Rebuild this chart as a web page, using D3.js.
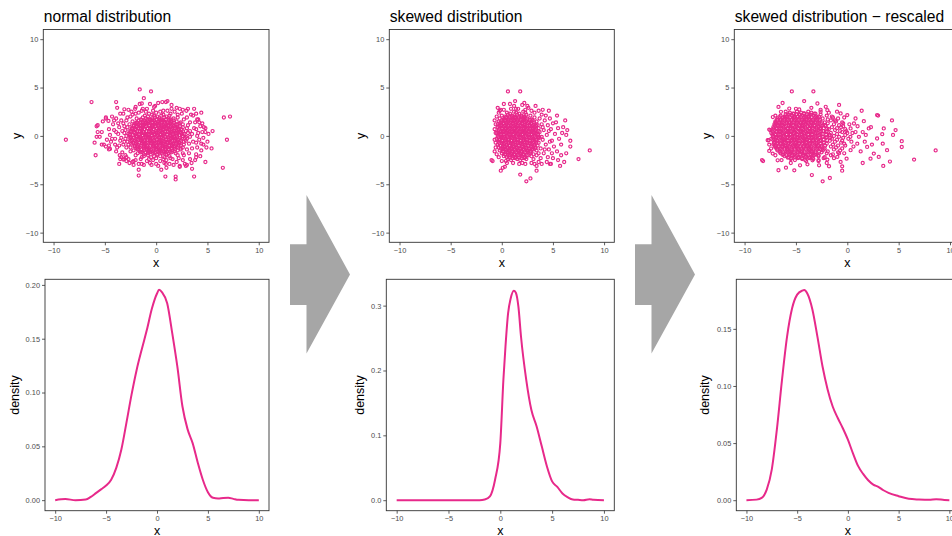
<!DOCTYPE html>
<html>
<head>
<meta charset="utf-8">
<script src="https://cdn.jsdelivr.net/npm/d3@7"></script>
<style>
  body { margin: 0; background: #fff; }
  text { font-family: "Liberation Sans", Arial, sans-serif; }
</style>
</head>
<body>
<script>
// ---- data ----
var titles = ["normal distribution", "skewed distribution", "skewed distribution \u2212 rescaled"];
var xyTicks = [-10, -5, 0, 5, 10];
var normalDensTicks = [0, 0.05, 0.10, 0.15, 0.20];
var skewedDensTicks = [0, 0.1, 0.2, 0.3];
var rescaledDensTicks = [0, 0.05, 0.10, 0.15];

var normalPoints = [
  [-1.1,2.1],[-0.8,2.0],[-0.4,2.2],[-0.2,2.1],[0.1,2.0],[0.5,2.1],[0.7,2.2],[1.0,2.0],[1.3,2.1],
  [-1.9,1.8],[-1.5,1.7],[-1.3,1.9],[-1.0,1.8],[-0.6,1.7],[-0.4,1.8],[-0.1,1.9],[0.3,1.8],[0.5,1.7],[0.8,1.9],[1.2,1.8],[1.4,1.7],[1.7,1.8],[2.1,1.9],
  [-2.3,1.5],[-1.9,1.4],[-1.7,1.6],[-1.3,1.5],[-1.0,1.4],[-0.8,1.5],[-0.4,1.6],[-0.1,1.4],[0.2,1.5],[0.6,1.6],[0.8,1.5],[1.1,1.4],[1.5,1.5],[1.7,1.6],[2.0,1.5],[2.4,1.4],
  [-2.6,1.2],[-2.2,1.1],[-2.0,1.3],[-1.7,1.2],[-1.3,1.1],[-1.1,1.2],[-0.8,1.3],[-0.4,1.1],[-0.2,1.2],[0.1,1.3],[0.5,1.2],[0.7,1.1],[1.0,1.2],[1.4,1.3],[1.6,1.1],[1.9,1.2],[2.3,1.3],[2.6,1.2],
  [-2.8,0.9],[-2.4,0.8],[-2.2,1.0],[-1.9,0.9],[-1.5,0.8],[-1.3,0.9],[-1.0,1.0],[-0.6,0.8],[-0.4,0.9],[-0.1,1.0],[0.3,0.9],[0.5,0.8],[0.8,0.9],[1.2,1.0],[1.4,0.9],[1.7,0.8],[2.1,0.9],[2.3,1.0],[2.6,0.9],[3.0,0.8],
  [-3.0,0.6],[-2.6,0.5],[-2.3,0.7],[-2.0,0.6],[-1.6,0.5],[-1.4,0.6],[-1.1,0.7],[-0.7,0.5],[-0.5,0.6],[-0.2,0.7],[0.2,0.6],[0.4,0.5],[0.7,0.6],[1.1,0.7],[1.3,0.6],[1.6,0.5],[2.0,0.6],[2.2,0.7],[2.5,0.6],[2.9,0.5],
  [-3.1,0.3],[-2.7,0.2],[-2.5,0.4],[-2.1,0.3],[-1.8,0.2],[-1.4,0.3],[-1.2,0.4],[-0.9,0.2],[-0.5,0.3],[-0.3,0.4],[0.0,0.3],[0.4,0.2],[0.6,0.3],[0.9,0.4],[1.3,0.3],[1.5,0.2],[1.8,0.3],[2.2,0.4],[2.4,0.3],[2.7,0.2],[3.1,0.3],
  [-2.9,0.0],[-2.5,-0.1],[-2.3,0.1],[-1.9,0.0],[-1.6,-0.1],[-1.3,0.0],[-1.0,0.1],[-0.8,-0.1],[-0.4,0.0],[-0.1,0.1],[0.1,0.0],[0.5,-0.1],[0.7,0.0],[1.1,0.1],[1.4,0.0],[1.6,-0.1],[2.0,0.0],[2.3,0.1],[2.6,0.0],[2.9,-0.1],
  [-3.0,-0.3],[-2.6,-0.2],[-2.4,-0.4],[-2.0,-0.3],[-1.7,-0.2],[-1.5,-0.3],[-1.1,-0.4],[-0.8,-0.2],[-0.6,-0.3],[-0.2,-0.4],[0.1,-0.3],[0.3,-0.2],[0.7,-0.3],[1.0,-0.4],[1.2,-0.3],[1.6,-0.2],[1.9,-0.3],[2.1,-0.4],[2.5,-0.3],[2.8,-0.2],[3.0,-0.3],
  [-2.8,-0.6],[-2.5,-0.5],[-2.2,-0.7],[-1.9,-0.6],[-1.5,-0.5],[-1.3,-0.6],[-0.9,-0.7],[-0.6,-0.5],[-0.4,-0.6],[0.0,-0.7],[0.3,-0.6],[0.5,-0.5],[0.9,-0.6],[1.2,-0.7],[1.4,-0.6],[1.8,-0.5],[2.1,-0.6],[2.3,-0.7],[2.7,-0.6],[2.9,-0.5],
  [-2.7,-0.9],[-2.4,-0.8],[-2.1,-1.0],[-1.8,-0.9],[-1.4,-0.8],[-1.2,-0.9],[-0.9,-1.0],[-0.5,-0.8],[-0.3,-0.9],[0.0,-1.0],[0.4,-0.9],[0.6,-0.8],[0.9,-0.9],[1.3,-1.0],[1.5,-0.9],[1.8,-0.8],[2.2,-0.9],[2.4,-1.0],[2.7,-0.9],
  [-2.5,-1.2],[-2.1,-1.1],[-1.9,-1.3],[-1.6,-1.2],[-1.2,-1.1],[-1.0,-1.2],[-0.7,-1.3],[-0.3,-1.1],[-0.1,-1.2],[0.2,-1.3],[0.6,-1.2],[0.8,-1.1],[1.1,-1.2],[1.5,-1.3],[1.7,-1.1],[2.0,-1.2],[2.4,-1.3],[2.6,-1.2],
  [-2.2,-1.5],[-1.8,-1.4],[-1.6,-1.6],[-1.2,-1.5],[-0.9,-1.4],[-0.7,-1.5],[-0.3,-1.6],[0.0,-1.4],[0.3,-1.5],[0.7,-1.6],[0.9,-1.5],[1.2,-1.4],[1.6,-1.5],[1.8,-1.6],[2.1,-1.5],[2.4,-1.4],
  [-1.8,-1.8],[-1.5,-1.7],[-1.2,-1.9],[-0.8,-1.8],[-0.6,-1.7],[-0.3,-1.8],[0.1,-1.9],[0.3,-1.7],[0.6,-1.8],[1.0,-1.9],[1.2,-1.8],[1.5,-1.7],[1.9,-1.8],
  [-1.2,-2.1],[-0.8,-2.0],[-0.5,-2.2],[-0.2,-2.1],[0.1,-2.0],[0.4,-2.1],[0.8,-2.2],[1.0,-2.0],[1.3,-2.1],
  [-3.4,1.6],[-3.6,0.9],[-3.7,0.2],[-3.5,-0.5],[-3.8,-1.2],[-3.3,-1.7],[-3.0,-2.0],[-2.7,-2.4],[-2.0,-2.5],[-1.5,-2.4],
  [-0.9,-2.6],[-0.3,-2.5],[0.4,-2.6],[1.0,-2.5],[1.6,-2.4],[2.2,-2.3],[2.7,-2.0],[3.2,-1.8],[3.5,-1.3],[3.6,-0.6],
  [3.5,0.2],[3.7,0.8],[3.3,1.4],[3.0,1.9],[2.5,2.3],[1.8,2.5],[1.1,2.6],[0.4,2.5],[-0.3,2.6],[-1.0,2.5],
  [-1.7,2.4],[-2.3,2.2],[-2.8,1.9],[-3.2,1.3],[-4.1,0.6],[-4.3,-0.3],[-4.0,-0.9],[-4.2,1.2],[-3.9,-1.6],[-2.6,-2.8],
  [-0.6,-2.8],[0.8,-2.8],[2.0,-2.7],[3.3,-2.4],[4.0,-1.2],[4.2,-0.4],[4.1,0.3],[4.3,1.0],[3.8,1.4],[3.4,2.2],
  [2.0,2.9],[1.5,2.8],[-0.1,3.1],[-1.3,2.8],[-2.4,2.5],[-3.2,2.3],[-4.5,0.1],[4.6,-0.2],[3.8,-2.5],[-2.9,-2.6],
  [3.9,2.3],[-4.4,-0.6],[4.3,-2.1],[-4.3,2.0],[-2.0,3.0],[0.2,-3.1],[1.7,-3.0],[-3.1,-2.4],
  [-3.3,0.5],[-3.4,-0.2],[-3.2,-0.9],[-3.1,1.0],[-2.9,1.6],[-2.5,2.0],[-2.0,2.3],[-1.4,2.6],[-0.7,2.3],[0.0,2.4],
  [0.7,2.6],[1.4,2.3],[2.1,2.2],[2.7,1.7],[3.1,1.1],[3.3,0.5],[3.3,-0.1],[3.2,-0.8],[3.0,-1.4],[2.6,-1.8],
  [2.1,-2.0],[1.4,-2.3],[0.7,-2.4],[0.0,-2.3],[-0.7,-2.4],[-1.4,-2.2],[-2.0,-2.0],[-2.5,-1.6],[-2.9,-1.2],[-3.1,-0.6],
  [-3.9,0.4],[-4.0,-0.3],[-3.7,1.3],[-3.6,-1.0],[4.0,0.0],[3.9,-0.7],[3.9,0.7],[4.5,0.4],[4.6,-0.9],[4.2,1.4],
  [-4.6,0.7],[-4.8,-0.4],[-2.2,-3.0],[1.0,-3.3],[-0.6,3.3],[2.6,-2.5],[-3.4,-2.2],[-4.1,1.6],[5.1,0.2],[3.5,-3.4],
  [-8.8,-0.4],[-6.3,3.5],[-1.6,4.8],[-0.5,4.6],[-1.2,3.9],[-3.9,3.5],[-3.8,2.9],[1.1,3.6],[0.6,3.5],[-1.6,3.3],
  [6.6,1.9],[7.2,2.0],[6.9,-0.4],[6.5,-3.3],[5.5,0.5],[4.4,2.4],[5.4,-1.3],[4.8,-2.7],[3.7,-4.2],[1.9,-4.2],
  [1.9,-4.5],[0.9,-4.2],[-1.7,-4.1],[-1.7,-3.5],[-1.7,-2.9],[0.5,-3.5],[2.3,-3.2],[2.9,-3.1],[-3.6,-2.9],[-5.9,-2.0],
  [-6.0,-0.7],[-5.8,-0.1],[-5.7,1.1],[-5.2,1.5],[-4.9,1.8],[-5.3,0.4],[-5.1,-0.9],[-4.9,-1.1],[-4.6,-1.4],[-3.5,-2.4],
  [-2.3,-2.7],[-1.2,-3.0],[1.3,-2.9],[3.0,-3.0],[3.9,-2.2],[5.0,-0.6],[4.8,0.8],[4.5,1.3],[4.0,1.7],[3.7,2.8],
  [3.1,2.8],[2.6,2.7],[-4.9,1.9],[-4.65,1.55],[-5.8,1.0],[-5.7,0.4],[-5.5,-0.1],[-5.3,-0.9],[-4.6,-1.0],[-4.5,-1.35],
  [-3.55,-2.0],[-3.2,-2.45],[-2.9,-2.2],[-2.2,-2.6],[-1.4,-2.9],[-0.45,-3.0],[0.0,-2.9],[0.95,-2.9],[2.3,-3.1],[2.8,-2.9],
  [3.45,-2.8],[3.9,-1.9],[4.4,-1.5],[4.9,-1.2],[4.4,-0.8],[4.8,0.4],[4.65,0.9],[4.1,1.7],[3.6,2.1],[2.95,2.6],
  [2.3,2.8],[1.5,3.2],[0.95,3.5],[0.2,3.4],[-0.2,3.0],[-0.9,2.8],[-1.4,3.35],[-2.05,2.8],[-2.7,2.7],[-3.1,2.75],
  [-3.5,2.3],[-3.9,1.8]
];

// the solid middle of the normal cloud
var normalCore = [
  [-1.45,1.65],[-1.15,1.6],[-0.85,1.7],[-0.55,1.65],[-0.25,1.6],[0.05,1.7],[0.35,1.65],[0.65,1.6],[0.95,1.7],[1.25,1.65],
  [-1.85,1.35],[-1.55,1.3],[-1.25,1.4],[-0.95,1.35],[-0.65,1.3],[-0.35,1.4],[-0.05,1.35],[0.25,1.3],[0.55,1.4],[0.85,1.35],[1.15,1.3],[1.45,1.4],[1.75,1.35],
  [-2.15,1.05],[-1.85,1.0],[-1.55,1.1],[-1.25,1.05],[-0.95,1.0],[-0.65,1.1],[-0.35,1.05],[-0.05,1.0],[0.25,1.1],[0.55,1.05],[0.85,1.0],[1.15,1.1],[1.45,1.05],[1.75,1.0],[2.05,1.1],
  [-2.35,0.75],[-2.05,0.7],[-1.75,0.8],[-1.45,0.75],[-1.15,0.7],[-0.85,0.8],[-0.55,0.75],[-0.25,0.7],[0.05,0.8],[0.35,0.75],[0.65,0.7],[0.95,0.8],[1.25,0.75],[1.55,0.7],[1.85,0.8],[2.15,0.75],[2.45,0.7],
  [-2.45,0.45],[-2.15,0.4],[-1.85,0.5],[-1.55,0.45],[-1.25,0.4],[-0.95,0.5],[-0.65,0.45],[-0.35,0.4],[-0.05,0.5],[0.25,0.45],[0.55,0.4],[0.85,0.5],[1.15,0.45],[1.45,0.4],[1.75,0.5],[2.05,0.45],[2.35,0.4],
  [-2.55,0.15],[-2.25,0.1],[-1.95,0.2],[-1.65,0.15],[-1.35,0.1],[-1.05,0.2],[-0.75,0.15],[-0.45,0.1],[-0.15,0.2],[0.15,0.15],[0.45,0.1],[0.75,0.2],[1.05,0.15],[1.35,0.1],[1.65,0.2],[1.95,0.15],[2.25,0.1],[2.55,0.2],
  [-2.45,-0.15],[-2.15,-0.2],[-1.85,-0.1],[-1.55,-0.15],[-1.25,-0.2],[-0.95,-0.1],[-0.65,-0.15],[-0.35,-0.2],[-0.05,-0.1],[0.25,-0.15],[0.55,-0.2],[0.85,-0.1],[1.15,-0.15],[1.45,-0.2],[1.75,-0.1],[2.05,-0.15],[2.35,-0.2],
  [-2.35,-0.45],[-2.05,-0.5],[-1.75,-0.4],[-1.45,-0.45],[-1.15,-0.5],[-0.85,-0.4],[-0.55,-0.45],[-0.25,-0.5],[0.05,-0.4],[0.35,-0.45],[0.65,-0.5],[0.95,-0.4],[1.25,-0.45],[1.55,-0.5],[1.85,-0.4],[2.15,-0.45],[2.45,-0.5],
  [-2.25,-0.75],[-1.95,-0.8],[-1.65,-0.7],[-1.35,-0.75],[-1.05,-0.8],[-0.75,-0.7],[-0.45,-0.75],[-0.15,-0.8],[0.15,-0.7],[0.45,-0.75],[0.75,-0.8],[1.05,-0.7],[1.35,-0.75],[1.65,-0.8],[1.95,-0.7],[2.25,-0.75],
  [-2.05,-1.05],[-1.75,-1.1],[-1.45,-1.0],[-1.15,-1.05],[-0.85,-1.1],[-0.55,-1.0],[-0.25,-1.05],[0.05,-1.1],[0.35,-1.0],[0.65,-1.05],[0.95,-1.1],[1.25,-1.0],[1.55,-1.05],[1.85,-1.1],[2.15,-1.0],
  [-1.75,-1.35],[-1.45,-1.4],[-1.15,-1.3],[-0.85,-1.35],[-0.55,-1.4],[-0.25,-1.3],[0.05,-1.35],[0.35,-1.4],[0.65,-1.3],[0.95,-1.35],[1.25,-1.4],[1.55,-1.3],[1.85,-1.35],
  [-1.35,-1.65],[-1.05,-1.7],[-0.75,-1.6],[-0.45,-1.65],[-0.15,-1.7],[0.15,-1.6],[0.45,-1.65],[0.75,-1.7],[1.05,-1.6],[1.35,-1.65]
];

var skewedPoints = [
  [0.5,2.4],[0.8,2.3],[1.2,2.5],[1.4,2.4],[1.7,2.3],[2.1,2.5],[2.3,2.4],
  [0.0,2.1],[0.3,2.0],[0.6,2.2],[1.0,2.1],[1.2,2.0],[1.5,2.2],[1.9,2.1],[2.1,2.0],[2.4,2.2],[2.8,2.1],
  [-0.2,1.8],[0.2,1.7],[0.4,1.9],[0.7,1.8],[1.1,1.7],[1.3,1.9],[1.6,1.8],[2.0,1.7],[2.2,1.9],[2.5,1.8],[2.9,1.7],[3.2,1.9],
  [-0.3,1.5],[0.0,1.4],[0.3,1.6],[0.6,1.5],[0.9,1.4],[1.2,1.6],[1.5,1.5],[1.8,1.4],[2.1,1.6],[2.4,1.5],[2.7,1.4],[3.0,1.6],[3.4,1.5],
  [-0.4,1.2],[-0.1,1.1],[0.2,1.3],[0.5,1.2],[0.9,1.1],[1.1,1.3],[1.4,1.2],[1.8,1.1],[2.0,1.3],[2.3,1.2],[2.7,1.1],[2.9,1.3],[3.2,1.2],[3.5,1.1],
  [-0.4,0.9],[0.0,0.8],[0.2,1.0],[0.5,0.9],[0.8,0.8],[1.1,1.0],[1.4,0.9],[1.7,0.8],[2.0,1.0],[2.3,0.9],[2.6,0.8],[2.9,1.0],[3.2,0.9],[3.6,0.8],
  [-0.3,0.6],[0.1,0.5],[0.4,0.7],[0.6,0.6],[1.0,0.5],[1.3,0.7],[1.5,0.6],[1.9,0.5],[2.2,0.7],[2.4,0.6],[2.8,0.5],[3.1,0.7],[3.3,0.6],[3.6,0.5],
  [-0.5,0.3],[-0.2,0.2],[0.1,0.4],[0.4,0.3],[0.7,0.2],[1.0,0.4],[1.3,0.3],[1.6,0.2],[1.9,0.4],[2.2,0.3],[2.5,0.2],[2.8,0.4],[3.1,0.3],[3.4,0.2],[3.7,0.4],
  [-0.4,0.0],[0.0,-0.1],[0.2,0.1],[0.5,0.0],[0.9,-0.1],[1.1,0.1],[1.4,0.0],[1.8,-0.1],[2.0,0.1],[2.3,0.0],[2.7,-0.1],[2.9,0.1],[3.2,0.0],[3.6,-0.1],
  [-0.5,-0.3],[-0.2,-0.4],[0.1,-0.2],[0.4,-0.3],[0.7,-0.4],[1.0,-0.2],[1.3,-0.3],[1.6,-0.4],[1.9,-0.2],[2.2,-0.3],[2.5,-0.4],[2.8,-0.2],[3.1,-0.3],[3.4,-0.4],[3.7,-0.2],
  [-0.3,-0.6],[0.0,-0.7],[0.3,-0.5],[0.7,-0.6],[0.9,-0.7],[1.2,-0.5],[1.6,-0.6],[1.8,-0.7],[2.1,-0.5],[2.5,-0.6],[2.7,-0.7],[3.0,-0.5],[3.4,-0.6],[3.6,-0.7],
  [-0.4,-0.9],[-0.1,-1.0],[0.2,-0.8],[0.5,-0.9],[0.8,-1.0],[1.1,-0.8],[1.4,-0.9],[1.7,-1.0],[2.0,-0.8],[2.3,-0.9],[2.6,-1.0],[2.9,-0.8],[3.2,-0.9],[3.5,-1.0],
  [-0.3,-1.2],[0.1,-1.3],[0.3,-1.1],[0.6,-1.2],[1.0,-1.3],[1.2,-1.1],[1.5,-1.2],[1.9,-1.3],[2.1,-1.1],[2.4,-1.2],[2.8,-1.3],[3.0,-1.1],[3.3,-1.2],
  [-0.2,-1.5],[0.1,-1.6],[0.4,-1.4],[0.7,-1.5],[1.0,-1.6],[1.3,-1.4],[1.6,-1.5],[1.9,-1.6],[2.2,-1.4],[2.5,-1.5],[2.8,-1.6],[3.1,-1.4],[3.4,-1.5],
  [0.0,-1.8],[0.3,-1.9],[0.6,-1.7],[1.0,-1.8],[1.2,-1.9],[1.5,-1.7],[1.9,-1.8],[2.1,-1.9],[2.4,-1.7],[2.8,-1.8],[3.1,-1.9],
  [0.2,-2.1],[0.5,-2.2],[0.8,-2.0],[1.1,-2.1],[1.4,-2.2],[1.7,-2.0],[2.0,-2.1],[2.3,-2.2],[2.6,-2.0],[2.9,-2.1],
  [0.6,-2.4],[0.9,-2.5],[1.3,-2.3],[1.5,-2.4],[1.8,-2.5],[2.2,-2.3],[2.4,-2.4],
  [3.9,2.2],[4.2,1.6],[4.5,1.1],[4.1,0.6],[4.4,0.1],[4.0,-0.4],[4.3,-0.9],[4.6,-1.4],[4.1,-1.8],[3.8,-2.3],
  [4.5,-2.2],[4.9,-1.8],[5.1,-1.1],[4.9,-0.5],[5.2,0.2],[4.8,0.7],[5.0,1.3],[4.7,1.8],[5.5,0.8],[5.6,-0.3],
  [5.4,-1.6],[5.8,-0.9],[5.9,0.3],[5.3,1.4],[3.9,1.2],[3.8,-1.3],[4.0,2.7],[3.6,2.6],[3.2,2.4],[3.1,-2.4],
  [3.4,-2.0],[3.6,-2.7],[2.9,-2.8],[2.3,-2.9],[1.7,-2.9],[1.1,-2.8],[0.5,-2.8],[0.0,-2.6],[-0.3,-2.2],[-0.5,-1.9],
  [-0.6,-1.2],[-0.6,0.3],[-0.6,1.2],[-0.3,2.4],[0.2,2.7],[0.9,2.8],[1.6,2.8],[2.3,2.7],[2.9,2.6],[1.2,3.1],
  [2.2,3.4],[0.8,3.3],[-0.4,2.9],[4.4,-2.7],[5.0,-2.3],[5.8,-2.0],[6.0,0.9],[3.9,-2.9],[4.3,2.1],[6.3,-1.8],
  [-0.6,-0.7],[-0.7,1.6],[-0.2,2.6],[3.9,-0.1],[4.0,0.9],[4.2,-1.4],[3.7,1.8],[3.6,-1.8],[4.6,0.5],[4.7,-0.6],
  [1.4,2.8],[0.4,-2.6],[2.0,-2.8],[3.2,-2.9],[2.6,2.9],
  [0.6,4.6],[1.8,4.6],[1.3,3.6],[0.2,3.3],[-0.1,2.7],[2.0,3.2],[3.3,3.1],[4.6,2.6],[5.4,2.1],[6.2,1.6],
  [6.4,0.6],[6.3,0.1],[6.7,-0.5],[6.7,-1.1],[8.6,-1.5],[7.5,-2.4],[6.1,-2.7],[5.7,-3.1],[5.5,-2.5],[4.8,-2.9],
  [3.4,-3.1],[3.4,-3.6],[2.8,-4.4],[2.4,-4.7],[1.8,-4.0],[-0.1,-3.6],[0.1,-3.3],[-0.9,-2.6],[-1.0,-2.5],[-0.7,-1.6],
  [-0.7,-0.4],[-0.7,0.7],[-0.5,2.0],[2.5,3.1],[0.3,-3.2],[4.7,-2.9]
];

// the solid middle of the skewed cloud
var skewedCore = [
  [0.45,1.95],[0.75,1.9],[1.05,2.0],[1.35,1.95],[1.65,1.9],[1.95,2.0],[2.25,1.95],
  [0.05,1.65],[0.35,1.6],[0.65,1.7],[0.95,1.65],[1.25,1.6],[1.55,1.7],[1.85,1.65],[2.15,1.6],[2.45,1.7],[2.75,1.65],
  [-0.15,1.35],[0.15,1.3],[0.45,1.4],[0.75,1.35],[1.05,1.3],[1.35,1.4],[1.65,1.35],[1.95,1.3],[2.25,1.4],[2.55,1.35],[2.85,1.3],[3.15,1.4],
  [-0.25,1.05],[0.05,1.0],[0.35,1.1],[0.65,1.05],[0.95,1.0],[1.25,1.1],[1.55,1.05],[1.85,1.0],[2.15,1.1],[2.45,1.05],[2.75,1.0],[3.05,1.1],[3.35,1.05],
  [-0.25,0.75],[0.05,0.7],[0.35,0.8],[0.65,0.75],[0.95,0.7],[1.25,0.8],[1.55,0.75],[1.85,0.7],[2.15,0.8],[2.45,0.75],[2.75,0.7],[3.05,0.8],[3.35,0.75],
  [-0.35,0.45],[-0.05,0.4],[0.25,0.5],[0.55,0.45],[0.85,0.4],[1.15,0.5],[1.45,0.45],[1.75,0.4],[2.05,0.5],[2.35,0.45],[2.65,0.4],[2.95,0.5],[3.25,0.45],
  [-0.35,0.15],[-0.05,0.1],[0.25,0.2],[0.55,0.15],[0.85,0.1],[1.15,0.2],[1.45,0.15],[1.75,0.1],[2.05,0.2],[2.35,0.15],[2.65,0.1],[2.95,0.2],[3.25,0.15],[3.55,0.1],
  [-0.35,-0.15],[-0.05,-0.2],[0.25,-0.1],[0.55,-0.15],[0.85,-0.2],[1.15,-0.1],[1.45,-0.15],[1.75,-0.2],[2.05,-0.1],[2.35,-0.15],[2.65,-0.2],[2.95,-0.1],[3.25,-0.15],[3.55,-0.2],
  [-0.25,-0.45],[0.05,-0.5],[0.35,-0.4],[0.65,-0.45],[0.95,-0.5],[1.25,-0.4],[1.55,-0.45],[1.85,-0.5],[2.15,-0.4],[2.45,-0.45],[2.75,-0.5],[3.05,-0.4],[3.35,-0.45],
  [-0.25,-0.75],[0.05,-0.8],[0.35,-0.7],[0.65,-0.75],[0.95,-0.8],[1.25,-0.7],[1.55,-0.75],[1.85,-0.8],[2.15,-0.7],[2.45,-0.75],[2.75,-0.8],[3.05,-0.7],[3.35,-0.75],
  [-0.15,-1.05],[0.15,-1.1],[0.45,-1.0],[0.75,-1.05],[1.05,-1.1],[1.35,-1.0],[1.65,-1.05],[1.95,-1.1],[2.25,-1.0],[2.55,-1.05],[2.85,-1.1],[3.15,-1.0],
  [-0.05,-1.35],[0.25,-1.4],[0.55,-1.3],[0.85,-1.35],[1.15,-1.4],[1.45,-1.3],[1.75,-1.35],[2.05,-1.4],[2.35,-1.3],[2.65,-1.35],[2.95,-1.4],[3.25,-1.3],
  [0.15,-1.65],[0.45,-1.7],[0.75,-1.6],[1.05,-1.65],[1.35,-1.7],[1.65,-1.6],[1.95,-1.65],[2.25,-1.7],[2.55,-1.6],[2.85,-1.65],
  [0.35,-1.95],[0.65,-2.0],[0.95,-1.9],[1.25,-1.95],[1.55,-2.0],[1.85,-1.9],[2.15,-1.95],[2.45,-2.0],
  [0.75,-2.25],[1.05,-2.3],[1.35,-2.2],[1.65,-2.25],[1.95,-2.3],[2.25,-2.2]
];

var rescaledPoints = [
  [-5.6,2.4],[-5.2,2.3],[-4.9,2.5],[-4.5,2.4],[-4.2,2.3],[-3.8,2.5],[-3.5,2.4],[-3.1,2.3],[-2.6,2.5],
  [-6.5,2.1],[-6.1,2.0],[-5.8,2.2],[-5.4,2.1],[-5.1,2.0],[-4.7,2.2],[-4.4,2.1],[-4.0,2.0],[-3.7,2.2],[-3.3,2.1],[-3.0,2.0],[-2.6,2.2],[-2.0,2.1],[-1.5,2.0],
  [-6.8,1.8],[-6.5,1.7],[-6.1,1.9],[-5.8,1.8],[-5.4,1.7],[-5.1,1.9],[-4.7,1.8],[-4.4,1.7],[-4.0,1.9],[-3.7,1.8],[-3.3,1.7],[-2.9,1.9],[-2.4,1.8],[-1.9,1.7],[-1.4,1.9],[-0.9,1.8],
  [-7.0,1.5],[-6.6,1.4],[-6.3,1.6],[-5.9,1.5],[-5.6,1.4],[-5.2,1.6],[-4.9,1.5],[-4.5,1.4],[-4.2,1.6],[-3.8,1.5],[-3.5,1.4],[-3.1,1.6],[-2.7,1.5],[-2.2,1.4],[-1.6,1.6],[-1.1,1.5],[-0.5,1.4],
  [-7.1,1.2],[-6.8,1.1],[-6.4,1.3],[-6.1,1.2],[-5.7,1.1],[-5.4,1.3],[-5.0,1.2],[-4.7,1.1],[-4.3,1.3],[-4.0,1.2],[-3.6,1.1],[-3.3,1.3],[-2.9,1.2],[-2.4,1.1],[-1.9,1.3],[-1.3,1.2],[-0.8,1.1],[-0.4,1.3],
  [-7.2,0.9],[-6.9,0.8],[-6.5,1.0],[-6.2,0.9],[-5.8,0.8],[-5.5,1.0],[-5.1,0.9],[-4.8,0.8],[-4.4,1.0],[-4.1,0.9],[-3.7,0.8],[-3.4,1.0],[-3.0,0.9],[-2.6,0.8],[-2.1,1.0],[-1.5,0.9],[-1.0,0.8],[-0.4,1.0],
  [-7.1,0.6],[-6.7,0.5],[-6.4,0.7],[-6.0,0.6],[-5.7,0.5],[-5.3,0.7],[-5.0,0.6],[-4.6,0.5],[-4.3,0.7],[-3.9,0.6],[-3.6,0.5],[-3.2,0.7],[-2.8,0.6],[-2.3,0.5],[-1.8,0.7],[-1.2,0.6],[-0.7,0.5],[-0.2,0.7],
  [-7.4,0.3],[-7.0,0.2],[-6.6,0.4],[-6.3,0.3],[-5.9,0.2],[-5.6,0.4],[-5.2,0.3],[-4.9,0.2],[-4.5,0.4],[-4.2,0.3],[-3.8,0.2],[-3.5,0.4],[-3.1,0.3],[-2.6,0.2],[-2.1,0.4],[-1.6,0.3],[-1.0,0.2],[-0.5,0.4],[0.0,0.3],
  [-7.2,0.0],[-6.9,-0.1],[-6.5,0.1],[-6.2,0.0],[-5.8,-0.1],[-5.5,0.1],[-5.1,0.0],[-4.8,-0.1],[-4.4,0.1],[-4.1,0.0],[-3.7,-0.1],[-3.4,0.1],[-2.9,0.0],[-2.4,-0.1],[-1.8,0.1],[-1.3,0.0],[-0.8,-0.1],[-0.2,0.1],
  [-7.4,-0.3],[-7.0,-0.4],[-6.7,-0.2],[-6.3,-0.3],[-6.0,-0.4],[-5.6,-0.2],[-5.3,-0.3],[-4.9,-0.4],[-4.6,-0.2],[-4.2,-0.3],[-3.9,-0.4],[-3.5,-0.2],[-3.1,-0.3],[-2.6,-0.4],[-2.1,-0.2],[-1.5,-0.3],[-1.0,-0.4],[-0.4,-0.2],[0.1,-0.3],
  [-7.1,-0.6],[-6.8,-0.7],[-6.4,-0.5],[-6.1,-0.6],[-5.7,-0.7],[-5.4,-0.5],[-5.0,-0.6],[-4.7,-0.7],[-4.3,-0.5],[-4.0,-0.6],[-3.6,-0.7],[-3.3,-0.5],[-2.8,-0.6],[-2.3,-0.7],[-1.7,-0.5],[-1.2,-0.6],[-0.6,-0.7],
  [-7.2,-0.9],[-6.9,-1.0],[-6.5,-0.8],[-6.2,-0.9],[-5.8,-1.0],[-5.5,-0.8],[-5.1,-0.9],[-4.8,-1.0],[-4.4,-0.8],[-4.1,-0.9],[-3.7,-1.0],[-3.4,-0.8],[-3.0,-0.9],[-2.5,-1.0],[-2.0,-0.8],[-1.4,-0.9],[-0.9,-1.0],[-0.3,-0.8],
  [-7.0,-1.2],[-6.6,-1.3],[-6.3,-1.1],[-5.9,-1.2],[-5.6,-1.3],[-5.2,-1.1],[-4.9,-1.2],[-4.5,-1.3],[-4.2,-1.1],[-3.8,-1.2],[-3.5,-1.3],[-3.1,-1.1],[-2.7,-1.2],[-2.2,-1.3],[-1.6,-1.1],[-1.1,-1.2],[-0.5,-1.3],
  [-6.8,-1.5],[-6.5,-1.6],[-6.1,-1.4],[-5.8,-1.5],[-5.4,-1.6],[-5.1,-1.4],[-4.7,-1.5],[-4.4,-1.6],[-4.0,-1.4],[-3.7,-1.5],[-3.3,-1.6],[-2.9,-1.4],[-2.4,-1.5],[-1.9,-1.6],[-1.3,-1.4],[-0.7,-1.5],
  [-6.5,-1.8],[-6.2,-1.9],[-5.8,-1.7],[-5.5,-1.8],[-5.1,-1.9],[-4.8,-1.7],[-4.4,-1.8],[-4.1,-1.9],[-3.7,-1.7],[-3.4,-1.8],[-3.0,-1.9],[-2.5,-1.7],[-2.0,-1.8],[-1.4,-1.9],[-0.9,-1.7],
  [-6.1,-2.1],[-5.7,-2.2],[-5.4,-2.0],[-5.0,-2.1],[-4.7,-2.2],[-4.3,-2.0],[-4.0,-2.1],[-3.6,-2.2],[-3.3,-2.0],[-2.8,-2.1],[-2.2,-2.2],[-1.6,-2.0],
  [-5.5,-2.4],[-5.1,-2.5],[-4.8,-2.3],[-4.4,-2.4],[-4.1,-2.5],[-3.7,-2.3],[-3.3,-2.4],[-2.8,-2.5],[-2.3,-2.3],
  [2.9,2.15],[3.55,0.77],[3.4,0.18],[2.9,-0.27],[3.45,-0.8],[3.87,-1.48],[3.06,-2.17],[2.58,-1.83],[2.26,-2.35],[1.93,-1.14],
  [2.09,0.77],[1.61,1.52],[0.8,1.8],[0.32,0.77],[1.13,-0.1],[0.97,-0.8],[0.32,-1.48],[-0.07,-2.35],[-0.65,-2.69],[-0.97,-2.17],
  [-1.78,-3.14],[-1.94,-2.45],[-2.75,-3.04],[-3.39,-2.52],[-3.88,-2.94],[-4.6,-3.04],[-5.16,-3.56],[-5.97,-3.28],[-6.78,-2.52],[-7.26,-1.83],
  [-7.42,-1.31],[-7.65,-0.45],[-7.49,0.59],[-6.94,1.28],[-6.46,2.49],[-5.65,2.83],[-4.68,2.73],[-4.2,2.32],[-2.91,3.35],[-2.1,3.01],
  [-1.94,2.66],[-0.65,2.32],[0.0,2.15],[0.65,1.28],[0.5,0.3],[1.5,0.4],[0.4,-0.6],[1.3,-1.6],[-0.3,1.9],[2.4,-0.9],
  [-1.2,1.6],[-0.6,0.9],[-0.1,0.5],[0.3,-0.1],[0.8,0.4],[0.2,1.2],[-0.5,-0.5],[-0.2,-1.0],[0.6,-1.1],[-0.8,-1.8],
  [-1.3,-2.3],[-0.3,-1.8],[1.0,1.0],[1.8,0.1],[2.3,0.9],[1.7,-0.6],[-1.8,2.4],[-1.0,2.5],[-2.6,2.7],[-3.5,2.9],
  [-5.0,2.8],[-6.0,2.5],[-7.0,2.1],[-7.6,-0.9],[-7.0,-2.0],[-6.4,-2.5],[-5.5,-2.8],[-4.0,-2.6],[-2.8,-2.6],[-2.0,-2.8],
  [-5.4,4.6],[-3.3,4.6],[-4.2,3.6],[-6.3,3.4],[-6.7,3.0],[-0.8,3.2],[1.4,2.6],[3.0,2.1],[4.35,1.6],[4.7,0.6],
  [4.45,0.1],[5.3,-0.55],[5.3,-1.15],[8.6,-1.5],[6.5,-2.45],[4.15,-2.65],[3.5,-3.1],[1.5,-2.8],[-0.5,-3.15],[-0.5,-3.6],
  [-1.7,-4.35],[-2.4,-4.7],[-3.45,-4.05],[-6.7,-3.55],[-8.2,-2.6],[-8.3,-2.5],[-7.6,-1.55],[-7.75,-0.45],[-7.6,0.65],[-7.25,1.95]
];

// the solid left part of the rescaled cloud
var rescaledCore = [
  [-6.0,2.25],[-5.65,2.2],[-5.3,2.3],[-4.95,2.25],[-4.6,2.2],[-4.25,2.3],[-3.9,2.25],[-3.55,2.2],[-3.2,2.3],
  [-6.6,1.95],[-6.25,1.9],[-5.9,2.0],[-5.55,1.95],[-5.2,1.9],[-4.85,2.0],[-4.5,1.95],[-4.15,1.9],[-3.8,2.0],[-3.45,1.95],[-3.1,1.9],[-2.75,2.0],
  [-6.85,1.65],[-6.5,1.6],[-6.15,1.7],[-5.8,1.65],[-5.45,1.6],[-5.1,1.7],[-4.75,1.65],[-4.4,1.6],[-4.05,1.7],[-3.7,1.65],[-3.35,1.6],[-3.0,1.7],[-2.65,1.65],
  [-7.0,1.35],[-6.65,1.3],[-6.3,1.4],[-5.95,1.35],[-5.6,1.3],[-5.25,1.4],[-4.9,1.35],[-4.55,1.3],[-4.2,1.4],[-3.85,1.35],[-3.5,1.3],[-3.15,1.4],[-2.8,1.35],[-2.45,1.3],
  [-7.05,1.05],[-6.7,1.0],[-6.35,1.1],[-6.0,1.05],[-5.65,1.0],[-5.3,1.1],[-4.95,1.05],[-4.6,1.0],[-4.25,1.1],[-3.9,1.05],[-3.55,1.0],[-3.2,1.1],[-2.85,1.05],[-2.5,1.0],[-2.15,1.1],
  [-7.2,0.75],[-6.85,0.7],[-6.5,0.8],[-6.15,0.75],[-5.8,0.7],[-5.45,0.8],[-5.1,0.75],[-4.75,0.7],[-4.4,0.8],[-4.05,0.75],[-3.7,0.7],[-3.35,0.8],[-3.0,0.75],[-2.65,0.7],[-2.3,0.8],[-1.95,0.75],
  [-7.25,0.45],[-6.9,0.4],[-6.55,0.5],[-6.2,0.45],[-5.85,0.4],[-5.5,0.5],[-5.15,0.45],[-4.8,0.4],[-4.45,0.5],[-4.1,0.45],[-3.75,0.4],[-3.4,0.5],[-3.05,0.45],[-2.7,0.4],[-2.35,0.5],[-2.0,0.45],
  [-7.3,0.15],[-6.95,0.1],[-6.6,0.2],[-6.25,0.15],[-5.9,0.1],[-5.55,0.2],[-5.2,0.15],[-4.85,0.1],[-4.5,0.2],[-4.15,0.15],[-3.8,0.1],[-3.45,0.2],[-3.1,0.15],[-2.75,0.1],[-2.4,0.2],[-2.05,0.15],[-1.7,0.1],
  [-7.25,-0.15],[-6.9,-0.2],[-6.55,-0.1],[-6.2,-0.15],[-5.85,-0.2],[-5.5,-0.1],[-5.15,-0.15],[-4.8,-0.2],[-4.45,-0.1],[-4.1,-0.15],[-3.75,-0.2],[-3.4,-0.1],[-3.05,-0.15],[-2.7,-0.2],[-2.35,-0.1],[-2.0,-0.15],[-1.65,-0.2],
  [-7.2,-0.45],[-6.85,-0.5],[-6.5,-0.4],[-6.15,-0.45],[-5.8,-0.5],[-5.45,-0.4],[-5.1,-0.45],[-4.75,-0.5],[-4.4,-0.4],[-4.05,-0.45],[-3.7,-0.5],[-3.35,-0.4],[-3.0,-0.45],[-2.65,-0.5],[-2.3,-0.4],[-1.95,-0.45],
  [-7.15,-0.75],[-6.8,-0.8],[-6.45,-0.7],[-6.1,-0.75],[-5.75,-0.8],[-5.4,-0.7],[-5.05,-0.75],[-4.7,-0.8],[-4.35,-0.7],[-4.0,-0.75],[-3.65,-0.8],[-3.3,-0.7],[-2.95,-0.75],[-2.6,-0.8],[-2.25,-0.7],
  [-7.05,-1.05],[-6.7,-1.1],[-6.35,-1.0],[-6.0,-1.05],[-5.65,-1.1],[-5.3,-1.0],[-4.95,-1.05],[-4.6,-1.1],[-4.25,-1.0],[-3.9,-1.05],[-3.55,-1.1],[-3.2,-1.0],[-2.85,-1.05],[-2.5,-1.1],[-2.15,-1.0],
  [-6.85,-1.35],[-6.5,-1.4],[-6.15,-1.3],[-5.8,-1.35],[-5.45,-1.4],[-5.1,-1.3],[-4.75,-1.35],[-4.4,-1.4],[-4.05,-1.3],[-3.7,-1.35],[-3.35,-1.4],[-3.0,-1.3],[-2.65,-1.35],[-2.3,-1.4],
  [-6.6,-1.65],[-6.25,-1.7],[-5.9,-1.6],[-5.55,-1.65],[-5.2,-1.7],[-4.85,-1.6],[-4.5,-1.65],[-4.15,-1.7],[-3.8,-1.6],[-3.45,-1.65],[-3.1,-1.7],[-2.75,-1.6],
  [-6.3,-1.95],[-5.95,-2.0],[-5.6,-1.9],[-5.25,-1.95],[-4.9,-2.0],[-4.55,-1.9],[-4.2,-1.95],[-3.85,-2.0],[-3.5,-1.9],[-3.15,-1.95],[-2.8,-2.0],
  [-5.8,-2.25],[-5.45,-2.3],[-5.1,-2.2],[-4.75,-2.25],[-4.4,-2.3],[-4.05,-2.2],[-3.7,-2.25],[-3.35,-2.3]
];

var normalDensX = [-10,-9,-8,-7,-6.5,-6,-5.5,-5,-4.5,-4,-3.5,-3,-2.5,-2,-1.5,-1,-0.5,0,0.2,0.5,1,1.5,2,2.5,3,3.5,4,4.5,5,5.5,6,6.5,7,7.5,8,9,10];
var normalDensY = [0,0.001,0,0.0005,0.003,0.0065,0.010,0.0136,0.019,0.030,0.047,0.072,0.098,0.121,0.140,0.158,0.178,0.192,0.1954,0.193,0.183,0.155,0.124,0.087,0.066,0.053,0.035,0.019,0.0074,0.0022,0.0015,0.002,0.0022,0.0012,0.0003,0,0];

var skewedDensX = [-10,-2,-1.5,-1,-0.5,0,0.3,0.5,0.75,1,1.3,1.5,1.75,2,2.5,3,3.5,4,4.5,5,5.5,6,6.5,7,7.5,8,8.6,9,10];
var skewedDensY = [0,0,0.001,0.006,0.032,0.088,0.186,0.237,0.288,0.311,0.323,0.32,0.298,0.252,0.186,0.139,0.114,0.083,0.052,0.029,0.0205,0.0103,0.0046,0.001,0.0005,0,0.0015,0.0005,0];

var rescaledDensX = [-10,-9,-8.5,-8,-7.5,-7,-6.5,-6,-5.5,-5,-4.5,-4.3,-4,-3.5,-3,-2.5,-2,-1.5,-1,-0.5,0,0.5,1,1.5,2,2.5,3,3.5,4,5,6,7,8,8.7,9.5,10];
var rescaledDensY = [0,0.0005,0.002,0.0093,0.027,0.062,0.105,0.143,0.168,0.180,0.1835,0.184,0.181,0.167,0.143,0.117,0.097,0.082,0.072,0.063,0.053,0.041,0.030,0.023,0.0175,0.0137,0.0117,0.0087,0.0064,0.0035,0.0012,0.0006,0.0003,0.0009,0.0002,0];

// ---- layout ----
var width = 952, height = 536;
var pink = "#e7298a";
var scatterTop = 29.5, scatterBottom = 242.3;
var densTop = 279.3, densBottom = 510.7;

var svg = d3.select("body").append("svg")
    .attr("width", width)
    .attr("height", height);

// gray arrows between the columns
function arrow(x0) {
  var p = [[x0, 244.3], [x0 + 16.5, 244.3], [x0 + 16.5, 195], [x0 + 60, 274.5],
           [x0 + 16.5, 353.5], [x0 + 16.5, 305], [x0, 305]];
  svg.append("path")
    .attr("d", "M" + p.join("L") + "Z")
    .attr("fill", "#a6a6a6");
}
arrow(290);
arrow(635);

function styleAxis(g) {
  g.select(".domain").remove();
  g.selectAll(".tick line").attr("stroke", "#333").attr("stroke-width", 0.8);
  g.selectAll(".tick text")
    .attr("fill", "#4d4d4d")
    .style("font-size", "7.4px");
}

function frame(left, right, top, bottom) {
  svg.append("rect")
    .attr("x", left).attr("y", top)
    .attr("width", right - left).attr("height", bottom - top)
    .attr("fill", "none")
    .attr("stroke", "#333")
    .attr("stroke-width", 0.9);
}

function yTitle(label, cx, cy) {
  svg.append("text")
    .attr("transform", "translate(" + cx + "," + cy + ") rotate(-90)")
    .attr("text-anchor", "middle")
    .attr("dy", "0.35em")
    .style("font-size", "12.5px")
    .text(label);
}

function xTitle(cx, y) {
  svg.append("text")
    .attr("x", cx).attr("y", y)
    .attr("text-anchor", "middle")
    .style("font-size", "12.5px")
    .text("x");
}

function scatterPanel(title, points, left, right, yLabelX) {
  var x = d3.scaleLinear().domain([-11, 11]).range([left, right]);
  var y = d3.scaleLinear().domain([-11, 11]).range([scatterBottom, scatterTop]);

  svg.append("text")
    .attr("x", left + 0.5).attr("y", 21.7)
    .style("font-size", "15.6px")
    .text(title);

  var clip = "clip" + Math.round(left);
  svg.append("clipPath").attr("id", clip)
    .append("rect").attr("x", left).attr("y", scatterTop)
    .attr("width", right - left).attr("height", scatterBottom - scatterTop);

  svg.append("g").attr("clip-path", "url(#" + clip + ")")
    .selectAll("circle")
    .data(points)
    .join("circle")
      .attr("cx", d => x(d[0]))
      .attr("cy", d => y(d[1]))
      .attr("r", 1.55)
      .attr("fill", "none")
      .attr("stroke", pink)
      .attr("stroke-width", 1.2);

  frame(left, right, scatterTop, scatterBottom);

  svg.append("g")
    .attr("transform", "translate(0," + scatterBottom + ")")
    .call(d3.axisBottom(x).tickValues(xyTicks).tickSize(3).tickPadding(2))
    .call(styleAxis);
  svg.append("g")
    .attr("transform", "translate(" + left + ",0)")
    .call(d3.axisLeft(y).tickValues(xyTicks).tickSize(3).tickPadding(2))
    .call(styleAxis);

  xTitle((left + right) / 2, 266.5);
  yTitle("y", yLabelX, (scatterTop + scatterBottom) / 2);
}

function densityPanel(xs, ys, yDomain, ticks, fmt, left, right, yLabelX) {
  var x = d3.scaleLinear().domain([-11, 11]).range([left, right]);
  var y = d3.scaleLinear().domain(yDomain).range([densBottom, densTop]);

  var line = d3.line()
    .x((d, i) => x(xs[i]))
    .y(d => y(d))
    .curve(d3.curveMonotoneX);

  svg.append("path")
    .datum(ys)
    .attr("d", line)
    .attr("fill", "none")
    .attr("stroke", pink)
    .attr("stroke-width", 2);

  frame(left, right, densTop, densBottom);

  svg.append("g")
    .attr("transform", "translate(0," + densBottom + ")")
    .call(d3.axisBottom(x).tickValues(xyTicks).tickSize(3).tickPadding(2))
    .call(styleAxis);
  svg.append("g")
    .attr("transform", "translate(" + left + ",0)")
    .call(d3.axisLeft(y).tickValues(ticks).tickFormat(d3.format(fmt)).tickSize(3).tickPadding(2))
    .call(styleAxis);

  xTitle((left + right) / 2, 534.5);
  yTitle("density", yLabelX, (densTop + densBottom) / 2);
}

scatterPanel(titles[0], normalPoints.concat(normalCore), 43.3, 269, 16.5);
scatterPanel(titles[1], skewedPoints.concat(skewedCore), 389.3, 614.3, 360.7);
scatterPanel(titles[2], rescaledPoints.concat(rescaledCore), 734.3, 960.3, 706.7);

densityPanel(normalDensX, normalDensY, [-0.0098, 0.2052], normalDensTicks, ".2f", 45, 269, 15);
densityPanel(skewedDensX, skewedDensY, [-0.0162, 0.3406], skewedDensTicks, ".1f", 386.3, 614.3, 360);
densityPanel(rescaledDensX, rescaledDensY, [-0.0092, 0.1934], rescaledDensTicks, ".2f", 736.3, 959.5, 705);
</script>
</body>
</html>
